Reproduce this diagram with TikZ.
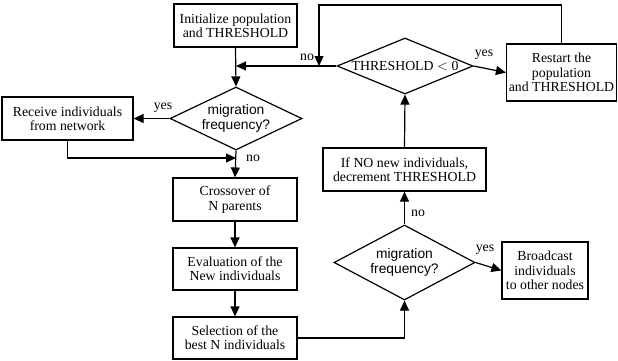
\documentclass[tikz,border=0pt]{standalone}
\usepackage{fontspec}
\setmainfont{Liberation Serif}
\newfontfamily\arialf{Liberation Sans}
\usetikzlibrary{arrows.meta,shapes.geometric}
\begin{document}
\begin{tikzpicture}[x=1pt,y=-1pt,
  every node/.style={font=\fontsize{13.8}{14.3}\selectfont},
  box/.style={draw,line width=1.2pt,rectangle,inner sep=0pt,align=center},
  dia/.style={draw,line width=1.2pt,diamond,inner sep=0pt},
  dtext/.style={font=\arialf\fontsize{13.8}{14.2}\selectfont,align=center,inner sep=0pt},
  lbl/.style={inner sep=0pt},
  arr/.style={line width=1.2pt,-{Triangle[length=10pt,width=9pt]}},
  ln/.style={line width=1.2pt}]
\useasboundingbox (0,0) rectangle (618,360);
% boxes
\node[box,minimum width=123pt,minimum height=43pt] (init) at (235.5,25.5) {Initialize population\\and THRESHOLD};
\node[box,minimum width=131pt,minimum height=43pt] (recv) at (67.5,118.5) {Receive individuals\\from network};
\node[box,minimum width=124pt,minimum height=43pt] (cross) at (235,199.5) {Crossover of\\N parents};
\node[box,minimum width=124pt,minimum height=42pt] (eval) at (235,269) {Evaluation of the\\New individuals};
\node[box,minimum width=124pt,minimum height=42pt] (sel) at (235,338) {Selection of the\\best N individuals};
\node[box,minimum width=163pt,minimum height=43pt] (decr) at (404.5,169.5) {If NO new individuals,\\decrement THRESHOLD};
\node[box,minimum width=86pt,minimum height=57pt] (bcast) at (545,270.5) {Broadcast\\individuals\\to other nodes};
\node[box,minimum width=110pt,minimum height=57pt] (restart) at (561.5,72.5) {Restart the\\population\\and THRESHOLD};
% diamonds
\node[dia,minimum width=132pt,minimum height=63pt] (d1) at (236,118.5) {};
\node[dtext] (d1t) at (d1) {migration\\frequency?};
\node[dia,minimum width=141pt,minimum height=75pt] (d2) at (404.5,262.5) {};
\node[dtext] (d2t) at (d2) {migration\\frequency?};
\node[dia,minimum width=136pt,minimum height=56pt] (dth) at (405,66) {};
\node[lbl] (dtht) at (dth) {THRESHOLD $<$ 0};
% coordinates
\coordinate (topc) at (319,5);
\coordinate (mergeA) at (d1.north |- dth.west);
\coordinate (mergeB) at (d1.south |- 0,158);
% connectors
\draw[arr] (init.south) -- (d1.north);
\draw[arr] (dth.west) -- (mergeA);
\draw[arr] (restart.north) |- (topc) -- (topc |- dth.west);
\draw[arr] (dth.east) -- (restart.west);
\draw[arr] (d1.west) -- (recv.east);
\draw[arr] (recv.south) |- (mergeB);
\draw[arr] (d1.south) -- (cross.north);
\draw[arr] (cross.south) -- (eval.north);
\draw[arr] (eval.south) -- (sel.north);
\draw[arr] (sel.east) -| (d2.south);
\draw[arr] (d2.north) -- (decr.south);
\draw[arr] (decr.north) -- (dth.south);
\draw[arr] (d2.east) -- (bcast.west);
% labels
\node[lbl] (l1) at (307,57) {no};
\node[lbl] (l2) at (484,55) {yes};
\node[lbl] (l3) at (163,108) {yes};
\node[lbl] (l4) at (253,158) {no};
\node[lbl] (l5) at (418,213) {no};
\node[lbl] (l6) at (485,250) {yes};
\end{tikzpicture}
\end{document}
